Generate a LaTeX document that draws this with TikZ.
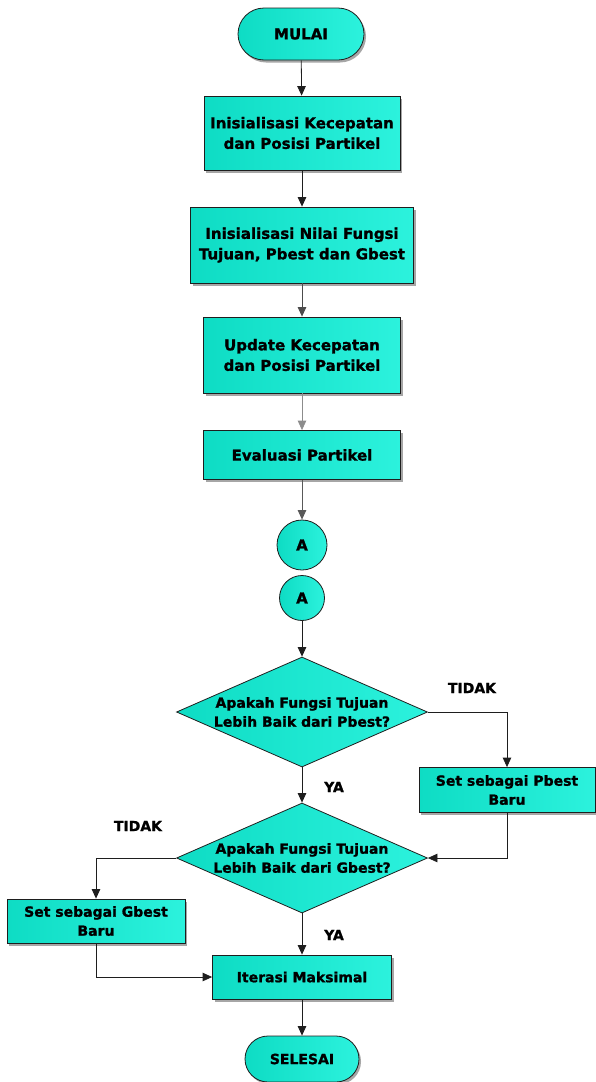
\documentclass[tikz,border=0pt]{standalone}
\usepackage{fontspec}
\setmainfont{DejaVu Sans}[BoldFeatures={FakeBold=1.2}]
\usetikzlibrary{shapes.geometric,shapes.misc,arrows.meta,shadows}
\definecolor{tealA}{RGB}{14,220,196}
\definecolor{tealB}{RGB}{44,242,221}
\definecolor{edgec}{RGB}{30,30,30}
\tikzset{
 fc/.style={left color=tealA,right color=tealB,draw=edgec,line width=0.8pt},
 shad/.style={drop shadow={shadow xshift=2pt,shadow yshift=-2.5pt,fill=black!35,opacity=1}},
 bigtxt/.style={font=\bfseries\fontsize{15}{20.5}\selectfont,align=center},
 smalltxt/.style={font=\bfseries\fontsize{14}{19}\selectfont,align=center},
 procbox/.style={fc,shad,rectangle,inner sep=0pt},
 term/.style={fc,shad,rounded rectangle,inner sep=0pt},
 conn/.style={fc,circle,inner sep=0pt,font=\bfseries\fontsize{15}{18}\selectfont},
 dec/.style={fc,diamond,inner sep=0pt},
 arr/.style={draw=edgec,line width=0.8pt,-{Triangle[width=8.5pt,length=9.5pt]}},
 lbl/.style={smalltxt}
}
\begin{document}
\begin{tikzpicture}[x=1pt,y=-1pt]
\useasboundingbox (0,0) rectangle (595,1082);
\node[term,bigtxt,minimum width=126pt,minimum height=52pt] (mulai) at (301,34) {MULAI};
\node[procbox,bigtxt,minimum width=196pt,minimum height=74pt] (b1) at (302,133) {Inisialisasi Kecepatan\\dan Posisi Partikel};
\node[procbox,bigtxt,minimum width=223pt,minimum height=76pt] (b2) at (302,245) {Inisialisasi Nilai Fungsi\\Tujuan, Pbest dan Gbest};
\node[procbox,bigtxt,minimum width=197pt,minimum height=76pt] (b3) at (302,355) {Update Kecepatan\\dan Posisi Partikel};
\node[procbox,bigtxt,minimum width=197pt,minimum height=49pt] (b4) at (302,455) {Evaluasi Partikel};
\node[conn,minimum size=50pt] (a1) at (302,545) {A};
\node[conn,minimum size=45pt] (a2) at (302,598) {A};
\node[dec,minimum width=251pt,minimum height=110pt,label={[smalltxt]center:{Apakah Fungsi Tujuan\\Lebih Baik dari Pbest?}}] (d1) at (302,712) {};
\node[procbox,smalltxt,minimum width=176pt,minimum height=45pt] (pb) at (507,790) {Set sebagai Pbest\\Baru};
\node[dec,minimum width=251pt,minimum height=110pt,label={[smalltxt]center:{Apakah Fungsi Tujuan\\Lebih Baik dari Gbest?}}] (d2) at (302,858) {};
\node[procbox,smalltxt,minimum width=178pt,minimum height=44pt] (gb) at (96,921) {Set sebagai Gbest\\Baru};
\node[procbox,smalltxt,minimum width=179pt,minimum height=44pt] (it) at (302,977) {Iterasi Maksimal};
\node[term,smalltxt,minimum width=114pt,minimum height=46pt] (sel) at (302,1059) {SELESAI};
\node[lbl] (t1) at (472,688) {TIDAK};
\node[lbl] (y1) at (334,787) {YA};
\node[lbl] (t2) at (138,826) {TIDAK};
\node[lbl] (y2) at (334,935) {YA};
\draw[arr] (mulai) -- (b1);
\draw[arr] (b1) -- (b2);
\draw[arr,draw=black!70] (b2) -- (b3);
\draw[arr,draw=black!45] (b3) -- (b4);
\draw[arr,draw=black!65] (b4) -- (a1);
\draw[arr] (a2) -- (d1);
\draw[arr] (d1) -- (d2);
\draw[arr] (d1.east) -| (pb.north);
\draw[arr] (pb.south) |- (d2.east);
\draw[arr] (d2.west) -| (gb.north);
\draw[arr] (gb.south) |- (it.west);
\draw[arr] (d2) -- (it);
\draw[arr] (it) -- (sel);
\end{tikzpicture}
\end{document}
